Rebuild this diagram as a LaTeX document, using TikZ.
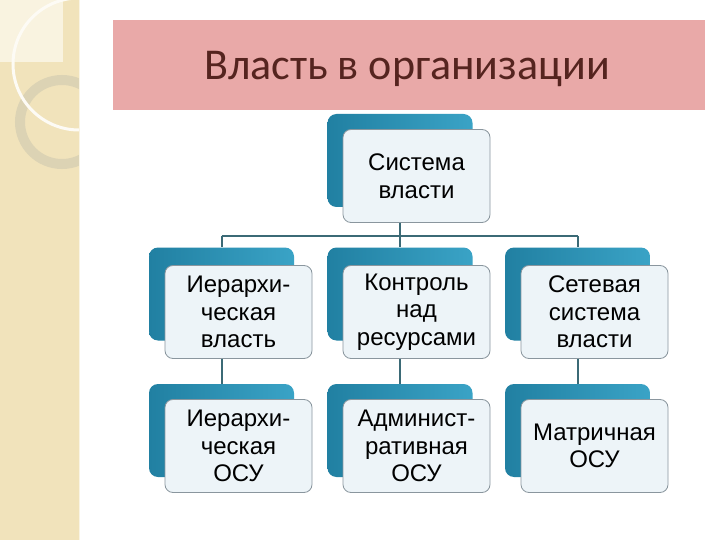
\documentclass[tikz,border=0pt]{standalone}
\usepackage{fontspec}
\setmainfont{Liberation Sans}
\newfontfamily\titlefont{Carlito}
\usetikzlibrary{positioning,calc}

\definecolor{stripbeige}{HTML}{F1E3BB}
\definecolor{ringgrey}{HTML}{DCD3B4}
\definecolor{titlepink}{HTML}{E9A9A8}
\definecolor{titletext}{HTML}{55241F}
\definecolor{backdark}{HTML}{2180A2}
\definecolor{backlight}{HTML}{3AA3C6}
\definecolor{frontfill}{HTML}{EDF4F8}
\definecolor{frontline}{HTML}{8A969E}
\definecolor{linkcol}{HTML}{3B6A76}

\begin{document}
\begin{tikzpicture}[x=1pt, y=-1pt,
  backbox/.style={rectangle, rounded corners=9pt, minimum width=145pt, minimum height=93pt, left color=backdark, right color=backlight},
  frontbox/.style={rectangle, draw=frontline, line width=0.8pt, rounded corners=8pt, fill=frontfill, minimum width=147pt, minimum height=93pt, align=center, font=\fontsize{24}{27.5}\selectfont},
  link/.style={draw=linkcol, line width=2pt}
]
  \useasboundingbox (0,0) rectangle (720,540);
  \fill[white] (0,0) rectangle (720,540);

  % left strip
  \fill[stripbeige] (0,0) rectangle (79,540);
  \begin{scope}
    \clip (0,0) rectangle (79,540);
    \fill[stripbeige!45!white] (0,0) rectangle (63,62);
    \draw[ringgrey, line width=10pt] (62,122) circle (42);
    \draw[white!85!stripbeige, line width=3pt] (79,64) circle (66);
  \end{scope}
  \draw[white!60!stripbeige, line width=1pt] (79.5,0) -- (79.5,540);

  % title
  \fill[titlepink] (113,20) rectangle (705,110);
  \node[text=titletext, font=\titlefont\fontsize{44}{52}\selectfont] (title) at (407,69) {Власть в организации};

  % top box
  \node[backbox] (tb) at (400,160.5) {};
  \node[frontbox] (t) at (416.5,176) {Система\\власти};

  % first row
  \node[backbox] (b1) at (221.5,294) {};
  \node[frontbox] (f1) at (238.5,312) {Иерархи-\\ческая\\власть};
  \node[backbox] (b2) at (400,294) {};
  \node[frontbox] (f2) at (416.5,312) {Контроль\\над\\ресурсами};
  \node[backbox] (b3) at (577.5,294) {};
  \node[frontbox] (f3) at (594.5,312) {Сетевая\\система\\власти};

  % second row
  \node[backbox] (c1) at (221.5,430.5) {};
  \node[frontbox] (g1) at (238.5,446) {Иерархи-\\ческая\\ОСУ};
  \node[backbox] (c2) at (400,430.5) {};
  \node[frontbox] (g2) at (416.5,446) {Админист-\\ративная\\ОСУ};
  \node[backbox] (c3) at (577.5,430.5) {};
  \node[frontbox] (g3) at (594.5,446) {Матричная\\ОСУ};

  % connectors
  \coordinate (bus) at (400,236);
  \draw[link] (tb |- t.south) -- (bus);
  \draw[link] (b1 |- bus) -- (b3 |- bus);
  \draw[link] (b1 |- bus) -- (b1.north);
  \draw[link] (b2 |- bus) -- (b2.north);
  \draw[link] (b3 |- bus) -- (b3.north);
  \draw[link] (b1 |- f1.south) -- (c1.north);
  \draw[link] (b2 |- f2.south) -- (c2.north);
  \draw[link] (b3 |- f3.south) -- (c3.north);
\end{tikzpicture}
\end{document}
